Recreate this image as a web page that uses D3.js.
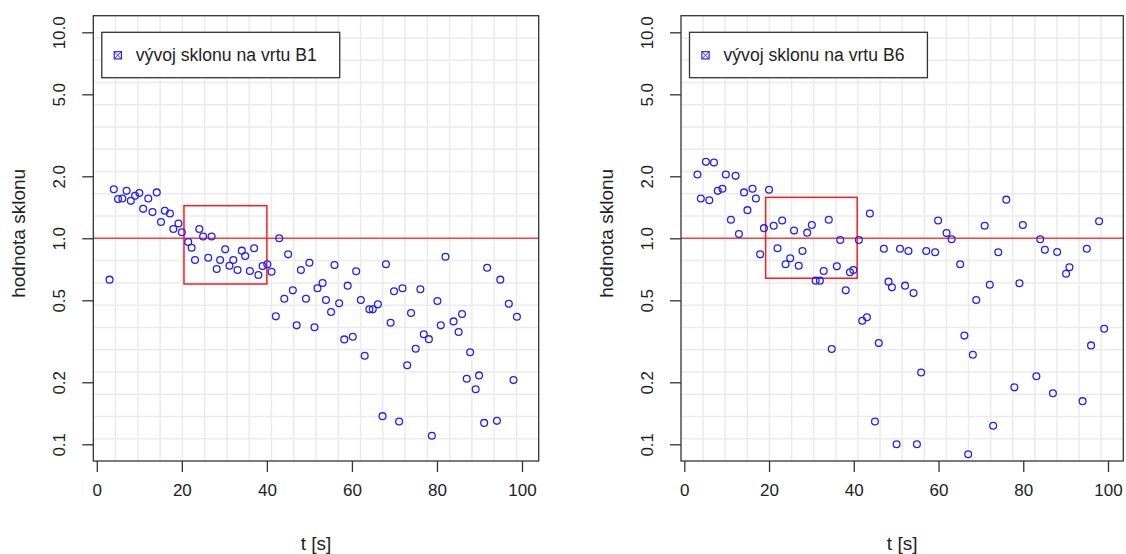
<!DOCTYPE html>
<html>
<head>
<meta charset="utf-8">
<script src="https://cdn.jsdelivr.net/npm/d3@7"></script>
<style>
  html, body { margin: 0; padding: 0; background: #fff; }
  svg { display: block; font-family: "Liberation Sans", Arial, sans-serif; }
</style>
</head>
<body>
<svg id="chart" width="1126" height="554"></svg>
<script>
// ---- data ----
const xTicks = [0, 20, 40, 60, 80, 100];
const yTicks = [0.1, 0.2, 0.5, 1, 2, 5, 10];
const yTickLabels = ["0.1", "0.2", "0.5", "1.0", "2.0", "5.0", "10.0"];
const xLabel = "t [s]";
const yLabel = "hodnota sklonu";
const legendB1 = "vývoj sklonu na vrtu B1";
const legendB6 = "vývoj sklonu na vrtu B6";
const refLevel = 1;

const tB1 = [3, 4, 5, 6, 7, 8, 9, 10, 10.9, 12.1, 13.1, 14.1, 15.1, 16, 17.2, 18, 19.2, 20,
  21.5, 22.3, 23.1, 24.1, 25, 26.2, 27, 28.2, 29, 30.2, 31.2, 32.1, 33.1, 34.1, 34.9, 36,
  37, 38, 39, 40.1, 41.1, 42.9, 42.1, 45, 44.1, 46.1, 48, 47, 50, 49.2, 51.2, 51.9, 53.1,
  53.9, 55.1, 55.9, 57, 58.2, 59, 60.2, 61, 62.1, 63, 64.1, 64.9, 66.1, 67.2, 68, 69.1,
  69.9, 71.1, 71.9, 73, 73.9, 75, 76.1, 76.9, 78.1, 78.8, 80.1, 80.9, 82, 83.9, 85.1, 85.9,
  87.8, 87, 89.1, 89.9, 91.1, 91.8, 94.1, 94.9, 96.9, 98, 98.8];
const vB1 = [0.63, 1.73, 1.55, 1.56, 1.70, 1.52, 1.61, 1.66, 1.39, 1.56, 1.34, 1.67, 1.20, 1.36,
  1.32, 1.11, 1.18, 1.07, 0.96, 0.90, 0.785, 1.11, 1.02, 0.805, 1.02, 0.71, 0.785, 0.884,
  0.736, 0.785, 0.702, 0.871, 0.821, 0.694, 0.894, 0.663, 0.734, 0.748, 0.688, 1.0, 0.418,
  0.836, 0.509, 0.559, 0.702, 0.378, 0.761, 0.509, 0.370, 0.572, 0.607, 0.502, 0.439, 0.742,
  0.484, 0.323, 0.589, 0.333, 0.692, 0.502, 0.269, 0.452, 0.452, 0.478, 0.137, 0.748, 0.389,
  0.553, 0.129, 0.572, 0.242, 0.434, 0.291, 0.566, 0.342, 0.324, 0.110, 0.496, 0.378, 0.814,
  0.395, 0.351, 0.429, 0.280, 0.208, 0.185, 0.216, 0.127, 0.720, 0.130, 0.630, 0.481, 0.205,
  0.416];

const tB6 = [3.1, 3.9, 5.1, 5.9, 7, 7.9, 9, 9.8, 11, 12.1, 12.9, 14.1, 14.9, 16.1, 16.9, 17.9,
  18.8, 20, 21.1, 22, 23.1, 23.9, 25, 25.9, 27, 27.9, 29, 30.1, 31, 32, 32.9, 34.1, 34.8, 36,
  36.8, 38.1, 39.1, 39.9, 41.2, 42, 43.1, 43.8, 45, 45.9, 47.1, 48.2, 49, 50.1, 50.9, 52.1,
  52.9, 54.1, 54.9, 55.9, 57.1, 59.2, 59.9, 61.9, 63.1, 65.1, 66.1, 67, 68.1, 68.9, 70.9,
  72.1, 72.9, 74.1, 76, 77.9, 79.1, 79.9, 83.1, 84, 85.1, 87, 88, 90.1, 90.9, 94, 95,
  96, 97.9, 99.1];
const vB6 = [2.04, 1.56, 2.35, 1.53, 2.33, 1.70, 1.74, 2.04, 1.23, 2.01, 1.05, 1.67, 1.37, 1.74,
  1.56, 0.836, 1.12, 1.72, 1.15, 0.894, 1.22, 0.748, 0.80, 1.09, 0.736, 0.868, 1.065, 1.16,
  0.623, 0.623, 0.694, 1.23, 0.290, 0.731, 0.981, 0.559, 0.684, 0.702, 0.981, 0.398, 0.414,
  1.32, 0.129, 0.310, 0.890, 0.616, 0.578, 0.100, 0.890, 0.589, 0.868, 0.542, 0.100, 0.223,
  0.868, 0.855, 1.22, 1.06, 0.989, 0.748, 0.337, 0.0894, 0.272, 0.502, 1.15, 0.595, 0.123,
  0.855, 1.54, 0.189, 0.605, 1.16, 0.214, 0.989, 0.880, 0.177, 0.858, 0.673, 0.723, 0.162,
  0.890, 0.302, 1.21, 0.364];

// red rectangles: [t0, t1, v0, v1]
const boxB1 = [20.5, 40, 0.60, 1.44];
const boxB6 = [19.2, 40.8, 0.64, 1.58];

// ---- drawing ----
const svg = d3.select("#chart");
const FONT = 17;
const TITLE_FONT = 19;

const panels = [
  { t: tB1, v: vB1, box: boxB1, legend: legendB1, frame: [93.3, 538.7], xr: [96.8, 522] },
  { t: tB6, v: vB6, box: boxB6, legend: legendB6, frame: [681, 1123.3], xr: [684.3, 1108] }
];
const plotTop = 15.7, plotBottom = 461;
const y = d3.scaleLog().domain([0.1, 10]).range([444.3, 32.3]);

panels.forEach(p => {
  const x = d3.scaleLinear().domain([0, 100]).range(p.xr);
  const [fx0, fx1] = p.frame;
  const g = svg.append("g");

  // grid: 20 equal divisions of the plotting region
  const gridG = g.append("g").attr("stroke", "#ebebeb").attr("stroke-width", 1.5);
  const xg = d3.range(1, 20).map(i => fx0 + (fx1 - fx0) * i / 20);
  const yg = d3.range(1, 20).map(i => plotTop + (plotBottom - plotTop) * i / 20);
  gridG.selectAll("line.v").data(xg).join("line").attr("class", "v")
    .attr("x1", d => d).attr("x2", d => d).attr("y1", plotTop).attr("y2", plotBottom);
  gridG.selectAll("line.h").data(yg).join("line").attr("class", "h")
    .attr("x1", fx0).attr("x2", fx1).attr("y1", d => d).attr("y2", d => d);

  // reference line at 1
  g.append("line")
    .attr("x1", fx0).attr("x2", fx1)
    .attr("y1", y(refLevel)).attr("y2", y(refLevel))
    .attr("stroke", "#ff4040").attr("stroke-width", 1.6);

  // red rectangle
  g.append("rect")
    .attr("x", x(p.box[0])).attr("y", y(p.box[3]))
    .attr("width", x(p.box[1]) - x(p.box[0]))
    .attr("height", y(p.box[2]) - y(p.box[3]))
    .attr("fill", "none").attr("stroke", "#ff1a1a").attr("stroke-width", 1.5);

  // points
  g.append("g").selectAll("circle").data(p.t.map((t, i) => [t, p.v[i]])).join("circle")
    .attr("cx", d => x(d[0])).attr("cy", d => y(d[1])).attr("r", 3.4)
    .attr("fill", "none").attr("stroke", "#2020ff").attr("stroke-width", 1.3);

  // frame
  g.append("rect").attr("x", fx0).attr("y", plotTop)
    .attr("width", fx1 - fx0).attr("height", plotBottom - plotTop)
    .attr("fill", "none").attr("stroke", "#333").attr("stroke-width", 1.3);

  // x axis
  const xAxis = d3.axisBottom(x).tickValues(xTicks).tickSize(11).tickPadding(12).tickFormat(d3.format("d"));
  const xa = g.append("g").attr("transform", `translate(0,${plotBottom})`).call(xAxis);
  xa.select(".domain").remove();
  xa.selectAll("line").attr("stroke", "#333").attr("stroke-width", 1.3);
  xa.selectAll("text").attr("font-size", FONT).attr("fill", "#222")
    .attr("font-family", "Liberation Sans, Arial, sans-serif");

  // y axis
  const yAxis = d3.axisLeft(y).tickValues(yTicks).tickSize(11)
    .tickFormat((d, i) => yTickLabels[i]);
  const ya = g.append("g").attr("transform", `translate(${fx0},0)`).call(yAxis);
  ya.select(".domain").remove();
  ya.selectAll("line").attr("stroke", "#333").attr("stroke-width", 1.3);
  ya.selectAll("text")
    .attr("x", null).attr("dy", null)
    .attr("font-size", FONT).attr("fill", "#222")
    .attr("font-family", "Liberation Sans, Arial, sans-serif")
    .attr("text-anchor", "middle")
    .attr("dominant-baseline", "central")
    .attr("transform", "translate(-33.5,0) rotate(-90)");

  // axis titles
  g.append("text").attr("x", (fx0 + fx1) / 2).attr("y", 550)
    .attr("text-anchor", "middle").attr("font-size", TITLE_FONT).attr("fill", "#222")
    .text(xLabel);
  g.append("text")
    .attr("transform", `translate(${fx0 - 75},${(plotTop + plotBottom) / 2 - 5}) rotate(-90)`)
    .attr("text-anchor", "middle").attr("dominant-baseline", "central")
    .attr("font-size", TITLE_FONT).attr("fill", "#222")
    .text(yLabel);

  // legend
  const lx = fx0 + 8.5, ly = 32.3;
  const lg = g.append("g");
  const lt = lg.append("text").attr("x", lx + 34).attr("y", ly + 23)
    .attr("dominant-baseline", "central").attr("font-size", 17.6).attr("fill", "#222")
    .text(p.legend);
  const tw = lt.node().getComputedTextLength();
  lg.insert("rect", "text").attr("x", lx).attr("y", ly)
    .attr("width", tw + 57).attr("height", 45.4)
    .attr("fill", "#fff").attr("stroke", "#333").attr("stroke-width", 1.3);
  const sx = lx + 16, sy = ly + 23, s = 3.6;
  lg.append("rect").attr("x", sx - s).attr("y", sy - s).attr("width", 2 * s).attr("height", 2 * s)
    .attr("fill", "none").attr("stroke", "#2020ff").attr("stroke-width", 1.2);
  lg.append("path").attr("d", `M${sx - s},${sy - s}L${sx + s},${sy + s}M${sx - s},${sy + s}L${sx + s},${sy - s}`)
    .attr("stroke", "#2020ff").attr("stroke-width", 0.9);
});
</script>
</body>
</html>
